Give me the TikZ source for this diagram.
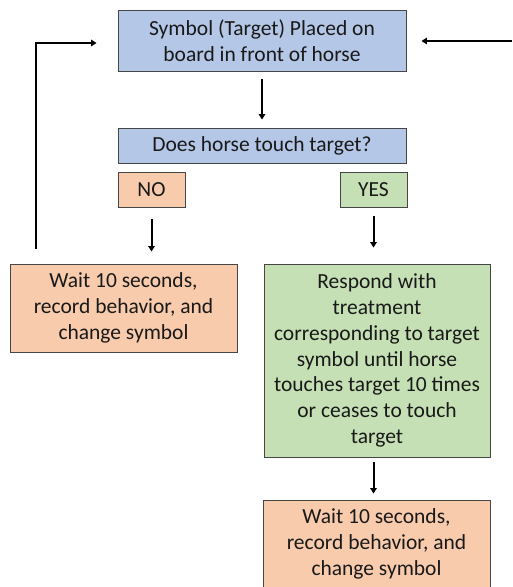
\documentclass[tikz,border=0pt]{standalone}
\usepackage{fontspec}
\setmainfont{Carlito}
\usetikzlibrary{arrows.meta}
\definecolor{bluebox}{RGB}{180,199,231}
\definecolor{orangebox}{RGB}{248,203,173}
\definecolor{greenbox}{RGB}{197,224,180}
\definecolor{edge}{RGB}{70,70,70}
\definecolor{txt}{RGB}{25,25,25}
\tikzset{
  box/.style={draw=edge, line width=0.9pt, rectangle, align=center, inner sep=0pt,
    text=txt, font=\fontsize{21.5}{25.8}\selectfont},
  bluestyle/.style={box, fill=bluebox},
  orangestyle/.style={box, fill=orangebox},
  greenstyle/.style={box, fill=greenbox},
  arr/.style={line width=2pt, -{Triangle[length=5.5pt,width=6.5pt]}}
}
\begin{document}
\begin{tikzpicture}[x=1pt,y=-1pt]
\useasboundingbox (0,0) rectangle (512,587);
\node[bluestyle, minimum width=288pt, minimum height=61pt] (top) at (262,40.5)
  {Symbol (Target) Placed on\\board in front of horse};
\node[bluestyle, minimum width=288pt, minimum height=35pt] (q) at (262,145.5)
  {Does horse touch target?};
\node[orangestyle, minimum width=67pt, minimum height=35pt] (no) at (151.5,189.5) {NO};
\node[greenstyle, minimum width=67pt, minimum height=35pt] (yes) at (373.5,189.5) {YES};
\node[orangestyle, minimum width=227pt, minimum height=88pt] (waitL) at (123.5,308)
  {Wait 10 seconds,\\record behavior, and\\change symbol};
\node[greenstyle, minimum width=226pt, minimum height=193pt] (resp) at (377,360.5)
  {Respond with\\treatment\\corresponding to target\\symbol until horse\\touches target 10 times\\or ceases to touch\\target};
\node[orangestyle, minimum width=227pt, minimum height=88pt] (waitR) at (376.5,544)
  {Wait 10 seconds,\\record behavior, and\\change symbol};
\draw[arr, shorten <=8pt, shorten >=8pt] (top.south) -- (q.north);
\draw[arr, shorten <=12pt, shorten >=12pt] (no.south) -- (no.south |- waitL.north);
\draw[arr, shorten <=9pt, shorten >=16pt] (yes.south) -- (yes.south |- resp.north);
\coordinate (ba) at (resp.south -| yes.south);
\draw[arr, shorten <=5pt, shorten >=6pt] (ba) -- (ba |- waitR.north);
\coordinate (loopstart) at ([xshift=26pt,yshift=15pt]waitL.north west);
\coordinate (loopend) at ([xshift=-21pt,yshift=-2.5pt]top.west);
\draw[arr] (loopstart) |- (loopend);
\coordinate (rightstart) at (512,41);
\draw[arr] (rightstart) -- ([xshift=15pt]top.east |- rightstart);
\end{tikzpicture}
\end{document}
